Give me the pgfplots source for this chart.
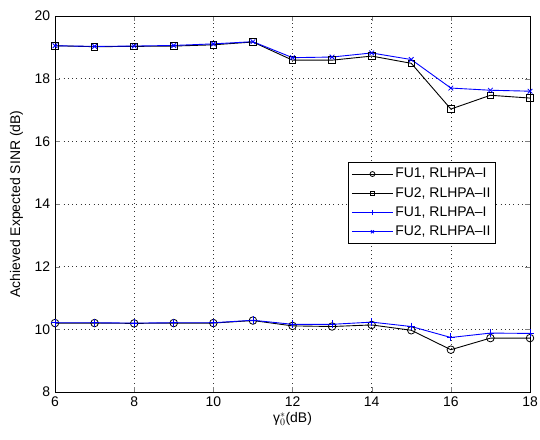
\documentclass[border=0pt]{standalone}
\usepackage{fontspec}
\setmainfont{Liberation Sans}
\usepackage{pgfplots}
\pgfplotsset{compat=1.18}
\begin{document}
\fontsize{14}{16}\selectfont
\begin{tikzpicture}[x=1bp,y=1bp]
\path[use as bounding box] (-55,-48) rectangle (485,392);
\begin{axis}[
  at={(0,0)}, anchor=south west,
  scale only axis, width=475bp, height=376bp,
  xmin=6, xmax=18, ymin=8, ymax=20,
  xtick={6,8,...,18}, ytick={8,10,...,20},
  /pgf/number format/assume math mode=true,
  tick label style={font=\fontsize{14}{16}\selectfont},
  label style={font=\fontsize{14}{16}\selectfont},
  tick align=inside, tick pos=both,
  major tick length=5bp,
  grid=major,
  major grid style={dash pattern=on 0.7pt off 3.6pt, line width=0.6pt, black!80},
  axis line style={line width=0.7pt},
  xlabel={γ$^{*}_{0}$(dB)},
  ylabel={Achieved Expected SINR (dB)},
  ylabel style={yshift=2bp},
  xlabel style={yshift=4bp},
  legend style={at={(0.928,0.612)}, anchor=north east, draw=black, line width=0.7pt,
    font=\fontsize{14}{16}\selectfont, row sep=3.5pt, inner sep=3pt, inner ysep=4pt},
  legend cell align=left,
  legend image code/.code={\draw[mark repeat=2,mark phase=2,#1,every mark/.append style={scale=0.65}] plot coordinates {(0bp,0bp)(20.5bp,0bp)(41bp,0bp)};},
  every axis plot/.append style={line width=0.9pt},
]
\addplot[black, mark=o, mark size=3.8pt, mark options={solid, line width=0.8pt}] coordinates {
(6,10.20)(7,10.20)(8,10.19)(9,10.20)(10,10.20)(11,10.28)(12,10.11)(13,10.09)(14,10.14)(15,9.97)(16,9.35)(17,9.72)(18,9.72)};
\addlegendentry{FU1, RLHPA--I}
\addplot[black, mark=square, mark size=3.3pt, mark options={solid, line width=0.8pt}] coordinates {
(6,19.05)(7,19.02)(8,19.03)(9,19.04)(10,19.08)(11,19.17)(12,18.59)(13,18.59)(14,18.72)(15,18.49)(16,17.03)(17,17.47)(18,17.38)};
\addlegendentry{FU2, RLHPA--II}
\addplot[color=blue, mark=+, mark size=4pt, mark options={solid, line width=0.8pt, draw=blue}] coordinates {
(6,10.21)(7,10.21)(8,10.20)(9,10.21)(10,10.21)(11,10.29)(12,10.16)(13,10.16)(14,10.23)(15,10.09)(16,9.74)(17,9.88)(18,9.87)};
\addlegendentry{FU1, RLHPA--I}
\addplot[color=blue, mark=x, mark size=3.3pt, mark options={solid, line width=0.8pt, draw=blue}] coordinates {
(6,19.05)(7,19.03)(8,19.04)(9,19.06)(10,19.11)(11,19.18)(12,18.67)(13,18.69)(14,18.82)(15,18.61)(16,17.70)(17,17.63)(18,17.60)};
\addlegendentry{FU2, RLHPA--II}
\end{axis}
\end{tikzpicture}
\end{document}
